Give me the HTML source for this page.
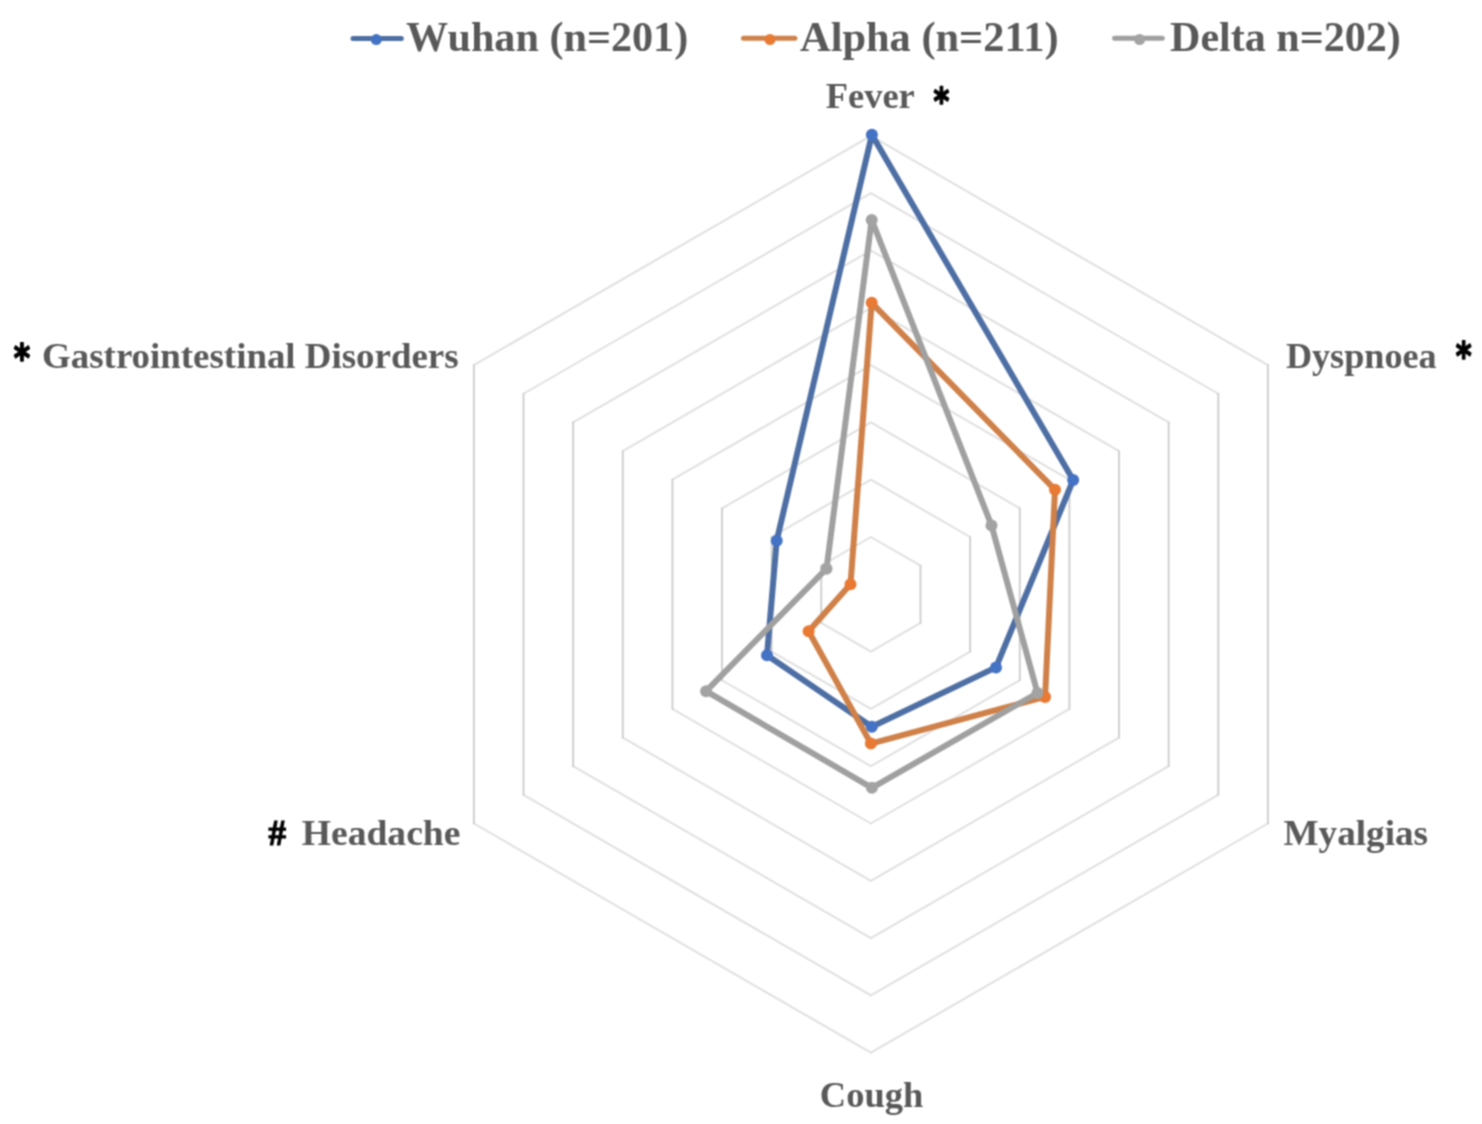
<!DOCTYPE html><html><head><meta charset="utf-8"><title>Symptoms radar chart</title><style>html,body{margin:0;padding:0;background:#fff;overflow:hidden;}svg{display:block;}#c{width:1482px;height:1124px;}text{font-family:"Liberation Serif","Times New Roman",serif;font-weight:bold;}.dj{font-family:"DejaVu Sans",sans-serif;}</style></head><body>
<div id="c">
<svg width="1482" height="1124" viewBox="0 0 1482 1124">
<defs><filter id="soft" x="0" y="0" width="1482" height="1124" filterUnits="userSpaceOnUse" color-interpolation-filters="sRGB"><feConvolveMatrix order="3" kernelMatrix="1 2 1 2 4 2 1 2 1" divisor="16" edgeMode="duplicate"/></filter></defs>
<g filter="url(#soft)">
<rect width="1482" height="1124" fill="#fff"/>
<path d="M870.90 537.00L920.52 565.65M920.52 622.95L870.90 651.60M870.90 651.60L821.28 622.95M821.28 565.65L870.90 537.00M870.90 479.70L970.15 537.00M970.15 651.60L870.90 708.90M870.90 708.90L771.65 651.60M771.65 537.00L870.90 479.70M870.90 422.40L1019.77 508.35M1019.77 680.25L870.90 766.20M870.90 766.20L722.03 680.25M722.03 508.35L870.90 422.40M870.90 365.10L1069.39 479.70M1069.39 708.90L870.90 823.50M870.90 823.50L672.41 708.90M672.41 479.70L870.90 365.10M870.90 307.80L1119.02 451.05M1119.02 737.55L870.90 880.80M870.90 880.80L622.78 737.55M622.78 451.05L870.90 307.80M870.90 250.50L1168.64 422.40M1168.64 766.20L870.90 938.10M870.90 938.10L573.16 766.20M573.16 422.40L870.90 250.50M870.90 193.20L1218.26 393.75M1218.26 794.85L870.90 995.40M870.90 995.40L523.54 794.85M523.54 393.75L870.90 193.20M870.90 135.90L1267.89 365.10M1267.89 823.50L870.90 1052.70M870.90 1052.70L473.91 823.50M473.91 365.10L870.90 135.90" fill="none" stroke="#E0E0E0" stroke-width="2" stroke-linecap="round"/>
<path d="M920.52 565.65L920.52 622.95M821.28 622.95L821.28 565.65M970.15 537.00L970.15 651.60M771.65 651.60L771.65 537.00M1019.77 508.35L1019.77 680.25M722.03 680.25L722.03 508.35M1069.39 479.70L1069.39 708.90M672.41 708.90L672.41 479.70M1119.02 451.05L1119.02 737.55M622.78 737.55L622.78 451.05M1168.64 422.40L1168.64 766.20M573.16 766.20L573.16 422.40M1218.26 393.75L1218.26 794.85M523.54 794.85L523.54 393.75M1267.89 365.10L1267.89 823.50M473.91 823.50L473.91 365.10" fill="none" stroke="#CCCCCC" stroke-width="1.8" stroke-linecap="round"/>
<polygon points="871.90,134.80 1073.20,480.00 996.00,667.40 871.80,726.70 767.00,655.30 776.70,540.70" fill="none" stroke="#4E6FA4" stroke-width="6" stroke-linejoin="round"/>
<circle cx="871.90" cy="134.80" r="6" fill="#4472C4"/>
<circle cx="1073.20" cy="480.00" r="6" fill="#4472C4"/>
<circle cx="996.00" cy="667.40" r="6" fill="#4472C4"/>
<circle cx="871.80" cy="726.70" r="6" fill="#4472C4"/>
<circle cx="767.00" cy="655.30" r="6" fill="#4472C4"/>
<circle cx="776.70" cy="540.70" r="6" fill="#4472C4"/>
<polygon points="871.70,302.80 1055.00,489.70 1045.10,696.90 870.90,743.60 808.60,631.30 850.50,584.30" fill="none" stroke="#CF8149" stroke-width="6" stroke-linejoin="round"/>
<circle cx="871.70" cy="302.80" r="6" fill="#E87A34"/>
<circle cx="1055.00" cy="489.70" r="6" fill="#E87A34"/>
<circle cx="1045.10" cy="696.90" r="6" fill="#E87A34"/>
<circle cx="870.90" cy="743.60" r="6" fill="#E87A34"/>
<circle cx="808.60" cy="631.30" r="6" fill="#E87A34"/>
<circle cx="850.50" cy="584.30" r="6" fill="#E87A34"/>
<polygon points="871.70,219.90 991.50,525.40 1037.50,693.00 871.90,787.80 706.10,691.20 826.50,568.70" fill="none" stroke="#A0A0A0" stroke-width="6" stroke-linejoin="round"/>
<circle cx="871.70" cy="219.90" r="6" fill="#A3A3A3"/>
<circle cx="991.50" cy="525.40" r="6" fill="#A3A3A3"/>
<circle cx="1037.50" cy="693.00" r="6" fill="#A3A3A3"/>
<circle cx="871.90" cy="787.80" r="6" fill="#A3A3A3"/>
<circle cx="706.10" cy="691.20" r="6" fill="#A3A3A3"/>
<circle cx="826.50" cy="568.70" r="6" fill="#A3A3A3"/>
<line x1="353.0" y1="38.4" x2="401.3" y2="38.4" stroke="#4E6FA4" stroke-width="5" stroke-linecap="round"/>
<circle cx="376.3" cy="39.6" r="5.5" fill="#4472C4"/>
<line x1="743.5" y1="38.3" x2="794.9" y2="38.3" stroke="#CF8149" stroke-width="5" stroke-linecap="round"/>
<circle cx="770" cy="39.5" r="5.5" fill="#E87A34"/>
<line x1="1114.6" y1="38.3" x2="1162.3" y2="38.3" stroke="#A0A0A0" stroke-width="5" stroke-linecap="round"/>
<circle cx="1139.6" cy="39.5" r="5.5" fill="#A3A3A3"/>
<text transform="translate(406.08 50.90) scale(1.0463 1.0500)" font-size="40.3" fill="#595959">Wuhan (n=201)</text>
<text transform="translate(800.01 50.90) scale(1.0523 1.0500)" font-size="40.3" fill="#595959">Alpha (n=211)</text>
<text transform="translate(1170.02 50.90) scale(1.0447 1.0500)" font-size="40.3" fill="#595959">Delta n=202)</text>
<text transform="translate(825.75 108.00) scale(1.0950 1.0450)" font-size="33.3" fill="#595959">Fever</text>
<text class="dj" transform="translate(933.57 113.89) scale(0.7210 0.9026)" font-size="42.0" fill="#000" stroke="#000" stroke-width="1.72" stroke-linejoin="round">*</text>
<text class="dj" transform="translate(13.80 372.11) scale(0.7457 0.9128)" font-size="42.0" fill="#000" stroke="#000" stroke-width="1.69" stroke-linejoin="round">*</text>
<text transform="translate(42.10 367.60) scale(1.1084 1.0450)" font-size="33.3" fill="#595959">Gastrointestinal Disorders</text>
<text transform="translate(1285.92 368.00) scale(1.0865 1.0450)" font-size="33.3" fill="#595959">Dyspnoea</text>
<text class="dj" transform="translate(1455.87 370.31) scale(0.7210 0.9128)" font-size="42.0" fill="#000" stroke="#000" stroke-width="1.71" stroke-linejoin="round">*</text>
<text transform="translate(268.56 845.30) scale(1.0520 1.0450)" font-size="33.3" fill="#000" stroke="#000" stroke-width="1.05">#</text>
<text transform="translate(301.74 845.30) scale(1.1288 1.0450)" font-size="33.3" fill="#595959">Headache</text>
<text transform="translate(1283.54 845.20) scale(1.1164 1.0450)" font-size="33.3" fill="#595959">Myalgias</text>
<text transform="translate(819.82 1107.20) scale(1.0963 1.0450)" font-size="33.3" fill="#595959">Cough</text>
</g></svg></div></body></html>
